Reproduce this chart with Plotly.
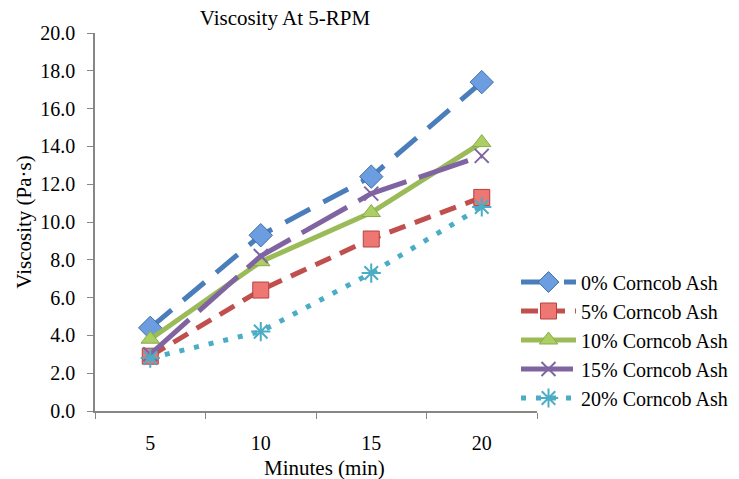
import plotly.graph_objects as go

minutes = [5, 10, 15, 20]
series_names = ["0% Corncob Ash", "5% Corncob Ash", "10% Corncob Ash",
                "15% Corncob Ash", "20% Corncob Ash"]
ash_0 = [4.4, 9.3, 12.4, 17.4]
ash_5 = [2.9, 6.4, 9.1, 11.3]
ash_10 = [3.8, 7.9, 10.5, 14.2]
ash_15 = [3.0, 8.2, 11.5, 13.5]
ash_20 = [2.8, 4.2, 7.3, 10.8]
y_ticks = [0, 2, 4, 6, 8, 10, 12, 14, 16, 18, 20]

FONT = "Liberation Serif, Times New Roman, serif"

styles = [
    dict(line=dict(color="#4A7EBB", width=5, dash="28px,15px"),
         marker=dict(symbol="diamond", size=18, color="#6C9DE0",
                     line=dict(color="#3E6DAA", width=1))),
    dict(line=dict(color="#C0504D", width=5, dash="17px,10px"),
         marker=dict(symbol="square", size=16, color="#EE7774",
                     line=dict(color="#B5423F", width=1))),
    dict(line=dict(color="#9BBB59", width=5, dash="solid"),
         marker=dict(symbol="triangle-up", size=16, color="#ABCF63",
                     line=dict(color="#8AAA48", width=1))),
    dict(line=dict(color="#8064A2", width=5, dash="52px,13px"),
         marker=dict(symbol="x-thin", size=14, color="#8064A2",
                     line=dict(color="#8064A2", width=2))),
    dict(line=dict(color="#4BACC6", width=5, dash="5px,10px"),
         marker=dict(symbol="asterisk", size=16, color="#4BACC6",
                     line=dict(color="#4BACC6", width=2))),
]

fig = go.Figure()
for name, vals, st in zip(series_names, [ash_0, ash_5, ash_10, ash_15, ash_20], styles):
    fig.add_trace(go.Scatter(x=minutes, y=vals, name=name, mode="lines+markers",
                             line=st["line"], marker=st["marker"]))

fig.update_layout(
    width=739, height=479,
    margin=dict(l=95, r=202, t=33, b=68, autoexpand=False),
    paper_bgcolor="white", plot_bgcolor="white",
    font=dict(family=FONT, size=20, color="black"),
    showlegend=True,
    title=dict(text="Viscosity At 5-RPM", x=285 / 739, xanchor="center",
               y=1 - 18 / 479, yanchor="middle",
               font=dict(family=FONT, size=21, color="black")),
    legend=dict(xref="container", yref="container", x=516 / 739, xanchor="left",
                y=1 - 340 / 479, yanchor="middle",
                font=dict(family=FONT, size=20, color="black"),
                itemwidth=55, tracegroupgap=0, bgcolor="rgba(0,0,0,0)"),
    xaxis=dict(range=[2.5, 22.5], tickvals=minutes, ticktext=[str(m) for m in minutes],
               ticks="", showgrid=False, zeroline=False,
               showline=True, linecolor="#868686", linewidth=1.5,
               ticklabelstandoff=13,
               minor=dict(tick0=2.5, dtick=5, ticks="outside", ticklen=6,
                          tickcolor="#868686", showgrid=False),
               tickfont=dict(family=FONT, size=20)),
    yaxis=dict(range=[0, 20], tickvals=y_ticks, tickformat=".1f",
               ticks="outside", ticklen=6, tickcolor="#868686",
               showgrid=False, zeroline=False,
               showline=True, linecolor="#868686", linewidth=1.5,
               ticklabelstandoff=8,
               title=dict(text="Viscosity (Pa·s)", standoff=3,
                          font=dict(family=FONT, size=21)),
               tickfont=dict(family=FONT, size=20)),
    annotations=[dict(text="Minutes (min)", xref="paper", yref="paper",
                      x=0.52, y=-57 / 378, xanchor="center", yanchor="middle",
                      showarrow=False, font=dict(family=FONT, size=21))],
)

fig.write_html("out.html")
